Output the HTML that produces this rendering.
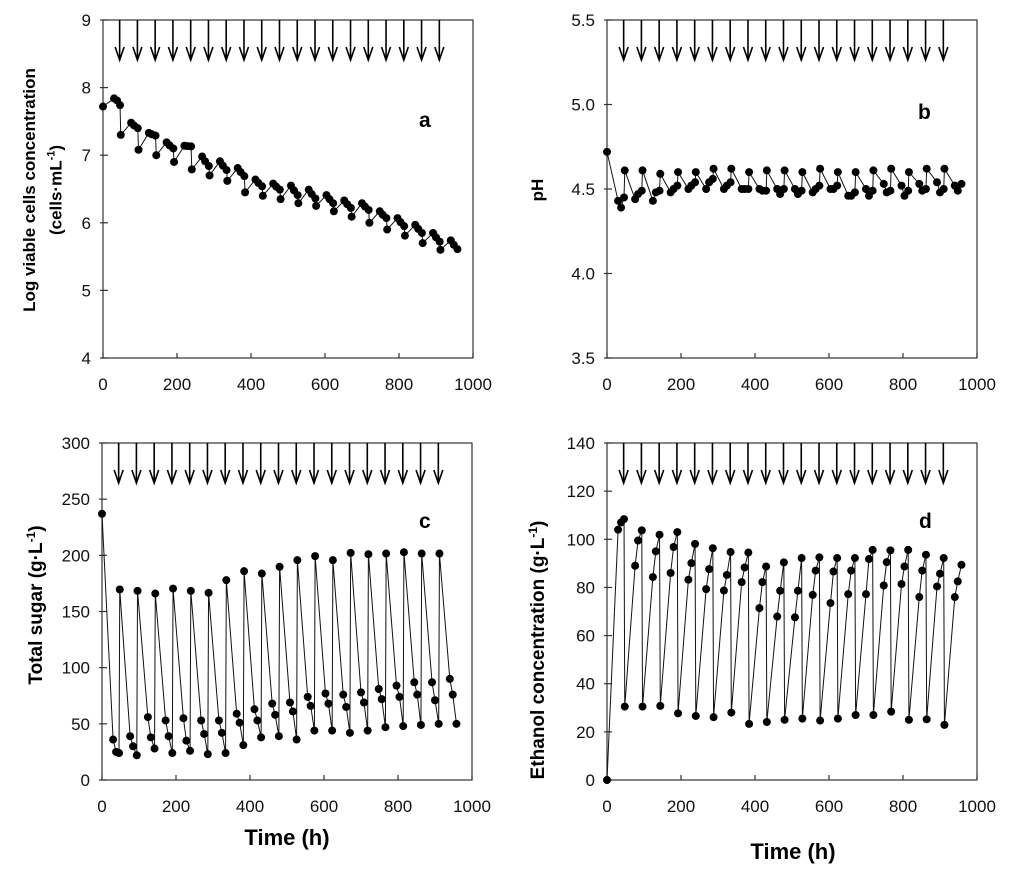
<!DOCTYPE html>
<html><head><meta charset="utf-8"><style>
html,body{margin:0;padding:0;background:#fff;}
svg{display:block;font-family:"Liberation Sans",Arial,sans-serif;}
</style></head><body>
<svg id="chart" width="1024" height="870" viewBox="0 0 1024 870"></svg>
<script>
// ---- data ----
const feedTimes = [48,96,144,192,240,288,336,384,432,480,528,576,624,672,720,768,816,864,912];
const arrowTimes = [45,93,141,189,237,285,333,381,429,477,525,573,621,669,717,765,813,861,909];
// panel a: log viable cells
const aStart = [7.72,7.84,7.81,7.74];
const aLows = [7.30,7.08,7.00,6.90,6.79,6.70,6.62,6.45,6.40,6.35,6.29,6.25,6.17,6.09,6.00,5.90,5.81,5.70,5.60];
const aTop1 = [7.48,7.33,7.19,7.14,6.98,6.91,6.81,6.64,6.58,6.55,6.49,6.41,6.33,6.29,6.17,6.07,5.97,5.85,5.74];
const aTop2 = [7.40,7.29,7.10,7.13,6.84,6.78,6.69,6.54,6.49,6.41,6.36,6.29,6.22,6.19,6.07,5.95,5.85,5.72,5.61];
// panel b: pH
const bStart = [4.72,4.43,4.39,4.45];
const bPeaks = [4.61,4.61,4.59,4.60,4.60,4.62,4.62,4.60,4.61,4.61,4.60,4.62,4.60,4.60,4.61,4.62,4.60,4.62,4.62];
const bM1 = [4.44,4.43,4.48,4.50,4.50,4.50,4.50,4.50,4.50,4.50,4.48,4.50,4.46,4.50,4.53,4.52,4.53,4.54,4.52];
const bM2 = [4.47,4.48,4.50,4.52,4.54,4.52,4.50,4.49,4.47,4.47,4.50,4.50,4.46,4.46,4.48,4.46,4.49,4.48,4.49];
const bM3 = [4.49,4.49,4.52,4.54,4.56,4.54,4.50,4.49,4.50,4.49,4.52,4.52,4.48,4.49,4.49,4.49,4.50,4.50,4.53];
// panel c: total sugar
const cStart = [237,36,25,24];
const cPeaks = [169.6,168.4,166,170.4,168.4,166.6,177.9,185.9,183.8,189.8,195.7,199.3,195.7,202.2,201,201.6,202.8,201.6,201.6];
const cM1 = [39,56,53,55,53,53,59,63,68,69,74,77,76,78,81,84,87,87,90];
const cM2 = [30,38,39,35,41,42,51,53,58,61,66,68,65,69,72,74,76,71,76];
const cM3 = [22,28,24,26,23,24,31,38,39,36,44,44,42,44,47,48,49,50,50];
// panel d: ethanol
const dStart = [0,104,107,108.4];
const dLows = [30.5,30.5,30.8,27.7,26.6,26.1,28,23.3,24.1,25,25.5,24.7,25.5,27,27,28.4,25,25.2,22.9];
const dM1 = [89,84.3,86,83.2,79.3,78.7,82.2,71.4,67.9,67.6,76.9,73.5,77.2,77.2,80.8,81.4,76,80.4,76];
const dM2 = [99.5,95,96.8,90.1,87.6,85.2,88.3,82.2,78.6,78.6,87,86.6,87,91.8,90.5,88.7,87,85.7,82.5];
const dM3 = [103.7,101.9,103,98.1,96.3,94.7,94.5,88.7,90.4,92.2,92.5,92.2,92.2,95.6,95.4,95.6,93.6,92.2,89.4];
const startTimes = [0,30,38,46];
const offsets = [28,36,46];

const NS="http://www.w3.org/2000/svg";
const svg=document.getElementById('chart');
function mk(tag,attrs,parent){const e=document.createElementNS(NS,tag);for(const k in attrs)e.setAttribute(k,attrs[k]);(parent||svg).appendChild(e);return e;}

function series(start, first, m1, m2, m3){
  const pts=startTimes.map((t,i)=>[t,start[i]]);
  feedTimes.forEach((T,k)=>{pts.push([T,first[k]]);pts.push([T+offsets[0],m1[k]]);pts.push([T+offsets[1],m2[k]]);pts.push([T+offsets[2],m3[k]]);});
  return pts;
}

function panel(cfg){
  const g=mk('g',{});
  
  
  const {x0,x1,y0,y1,ymin,ymax}=cfg;
  const sx=t=>x0+(t/1000)*(x1-x0);
  const sy=v=>y1-(v-ymin)/(ymax-ymin)*(y1-y0);
  const frame=mk('rect',{x:x0,y:y0,width:x1-x0,height:y1-y0,fill:'none',stroke:'#333','stroke-width':1.2},g);
  
  
  for(let t=0;t<=1000;t+=200){
    mk('line',{x1:sx(t),x2:sx(t),y1:y1-5,y2:y1,stroke:'#333','stroke-width':1.2},g);
    const tx=mk('text',{x:sx(t),y:y1+32,'text-anchor':'middle','font-size':17,fill:'#111'},g);
    tx.textContent=t;
    
    
  }
  cfg.yticks.forEach(v=>{
    mk('line',{x1:x0-3,x2:x0+5,y1:sy(v),y2:sy(v),stroke:'#333','stroke-width':1.2},g);
    const tx=mk('text',{x:x0-12,y:sy(v)+6,'text-anchor':'end','font-size':17,fill:'#111'},g);
    tx.textContent=cfg.fmt?v.toFixed(1):v;
    
    
  });
  arrowTimes.forEach(t=>{
    const ar=mk('g',{},g);
    
    
    const x=sx(t);
    mk('line',{x1:x,x2:x,y1:y0,y2:y0+39,stroke:'#000','stroke-width':1.6},ar);
    mk('polyline',{points:`${x-4.5},${y0+27} ${x},${y0+40} ${x+4.5},${y0+27}`,fill:'none',stroke:'#000','stroke-width':1.6},ar);
  });
  const pts=cfg.pts;
  const line=mk('polyline',{points:pts.map(p=>sx(p[0])+','+sy(p[1])).join(' '),fill:'none',stroke:'#111','stroke-width':1},g);
  
  
  pts.forEach(p=>{
    const c=mk('circle',{cx:sx(p[0]),cy:sy(p[1]),r:4,fill:'#000'},g);
    
    
  });
  const lb=mk('text',{x:cfg.lx,y:cfg.ly,'font-size':21,'font-weight':'bold',fill:'#000'},g);
  lb.textContent=cfg.label;
  
  
}

panel({name:'panel-a',x0:103,x1:473,y0:20,y1:358,ymin:4,ymax:9,yticks:[4,5,6,7,8,9],pts:series(aStart,aLows,aTop1,aTop2.map((v,i)=>(v+aTop1[i])/2),aTop2),label:'a',lx:419,ly:127});
panel({name:'panel-b',x0:607,x1:977,y0:20,y1:358,ymin:3.5,ymax:5.5,yticks:[3.5,4,4.5,5,5.5],fmt:true,pts:series(bStart,bPeaks,bM1,bM2,bM3),label:'b',lx:918,ly:119});
panel({name:'panel-c',x0:102,x1:472,y0:443,y1:780,ymin:0,ymax:300,yticks:[0,50,100,150,200,250,300],pts:series(cStart,cPeaks,cM1,cM2,cM3),label:'c',lx:419,ly:528});
panel({name:'panel-d',x0:607,x1:977,y0:443,y1:780,ymin:0,ymax:140,yticks:[0,20,40,60,80,100,120,140],pts:series(dStart,dLows,dM1,dM2,dM3),label:'d',lx:919,ly:528});
</script>
<div style="position:absolute;left:0;top:0;width:1024px;height:870px;pointer-events:none;font-family:'Liberation Sans',Arial,sans-serif;font-weight:bold;color:#000;">
  <div style="position:absolute;left:30px;top:190px;transform:translate(-50%,-50%) rotate(-90deg);white-space:nowrap;font-size:17px;">Log viable cells concentration</div>
  <div style="position:absolute;left:56px;top:190px;transform:translate(-50%,-50%) rotate(-90deg);white-space:nowrap;font-size:17px;">(cells·mL<sup style="font-size:11px">-1</sup>)</div>
  <div style="position:absolute;left:538px;top:190px;transform:translate(-50%,-50%) rotate(-90deg);white-space:nowrap;font-size:17px;">pH</div>
  <div style="position:absolute;left:36px;top:605px;transform:translate(-50%,-50%) rotate(-90deg);white-space:nowrap;font-size:19px;">Total sugar (g·L<sup style="font-size:12px">-1</sup>)</div>
  <div style="position:absolute;left:538px;top:650px;transform:translate(-50%,-50%) rotate(-90deg);white-space:nowrap;font-size:19px;">Ethanol concentration (g·L<sup style="font-size:12px">-1</sup>)</div>
  <div style="position:absolute;left:287px;top:838px;transform:translate(-50%,-50%);white-space:nowrap;font-size:22px;">Time (h)</div>
  <div style="position:absolute;left:793px;top:852px;transform:translate(-50%,-50%);white-space:nowrap;font-size:22px;">Time (h)</div>
</div>
</body></html>
